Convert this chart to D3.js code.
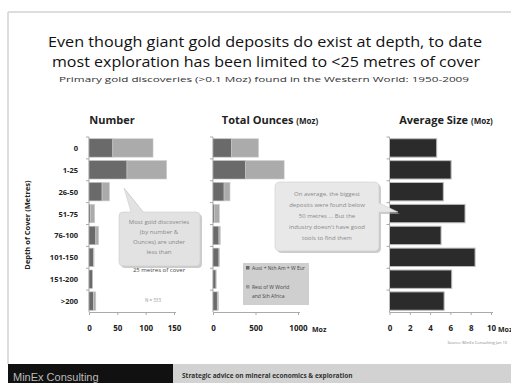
<!DOCTYPE html>
<html><head><meta charset="utf-8">
<script src="https://cdn.jsdelivr.net/npm/d3@7"></script>
<style>body{margin:0;background:#fff}svg{display:block}</style>
</head><body>
<script>
const categories = ["0","1-25","26-50","51-75","76-100","101-150","151-200",">200"];
const numberCore = [42, 67, 23, 3, 12, 8, 6, 8];
const numberRest = [71, 70, 13, 7, 5, 1, 0, 4];
const ouncesCore = [220, 385, 130, 20, 70, 70, 35, 50];
const ouncesRest = [315, 452, 70, 55, 16, 6, 2, 15];
const avgSize = [4.65, 6.07, 5.3, 7.44, 5.08, 8.43, 6.13, 5.38];
const numberTicks = [0, 50, 100, 150];
const ounceTicks = [0, 500, 1000];
const avgTicks = [0, 2, 4, 6, 8, 10];
const legendLabels = ["Aust + Nth Am + W Eur", "Rest of W World", "and Sth Africa"];

const W = 511, H = 383;
const svg = d3.select("body").append("svg").attr("width", W).attr("height", H);
const font = "'Open Sans', 'Liberation Sans', sans-serif";
const dark = "#6a6a6a", light = "#ababab";

// frame
svg.append("line").attr("x1", 8).attr("x2", W).attr("y1", 12).attr("y2", 12).attr("stroke", "#ddd").attr("stroke-width", 2);
svg.append("line").attr("x1", 8).attr("x2", 8).attr("y1", 12).attr("y2", 364).attr("stroke", "#ddd").attr("stroke-width", 2);

// titles
svg.append("text").attr("x", 265).attr("y", 47).attr("text-anchor", "middle").attr("font-family", font)
  .attr("font-size", 14.5).attr("font-weight", 500).attr("fill", "#111").attr("textLength", 434).attr("lengthAdjust", "spacingAndGlyphs")
  .text("Even though giant gold deposits do exist at depth, to date");
svg.append("text").attr("x", 266).attr("y", 67).attr("text-anchor", "middle").attr("font-family", font)
  .attr("font-size", 14.5).attr("font-weight", 500).attr("fill", "#111").attr("textLength", 428).attr("lengthAdjust", "spacingAndGlyphs")
  .text("most exploration has been limited to <25 metres of cover");
svg.append("text").attr("x", 264).attr("y", 82).attr("text-anchor", "middle").attr("font-family", font)
  .attr("font-size", 8).attr("fill", "#333").attr("textLength", 410).attr("lengthAdjust", "spacingAndGlyphs")
  .text("Primary gold discoveries (>0.1 Moz) found in the Western World: 1950-2009");

const y = d3.scaleBand().domain(categories).range([137, 312]).paddingInner(0.16).paddingOuter(0.08);
const yTicks = d3.scaleBand().domain(categories).range([137, 312]);

function panelAxes(x, ticks, x0, x1) {
  const g = svg.append("g");
  g.append("line").attr("x1", x0).attr("x2", x0).attr("y1", 137).attr("y2", 312).attr("stroke", "#aaa");
  categories.forEach(c => {
    g.append("line").attr("x1", x0 - 3).attr("x2", x0).attr("y1", yTicks(c)).attr("y2", yTicks(c)).attr("stroke", "#aaa");
  });
  const ax = svg.append("g").attr("transform", "translate(0,312)")
    .call(d3.axisBottom(x).tickValues(ticks).tickSize(3).tickSizeOuter(0).tickPadding(10).tickFormat(d3.format("d")));
  ax.select(".domain").attr("stroke", "#aaa").attr("d", `M${x0},0.5H${x1}`);
  ax.selectAll(".tick line").attr("stroke", "#aaa");
  ax.selectAll("text").attr("font-family", font).attr("font-size", 8).attr("font-weight", "bold").attr("fill", "#222");
  return ax;
}

// Panel 1: Number
const x1 = d3.scaleLinear().domain([0, 150]).range([89, 174]);
svg.append("text").attr("x", 112).attr("y", 124).attr("text-anchor", "middle").attr("font-family", font)
  .attr("font-size", 11).attr("font-weight", "bold").attr("fill", "#222").text("Number");
panelAxes(x1, numberTicks, 89, 176);
categories.forEach((c, i) => {
  svg.append("rect").attr("x", x1(0)).attr("y", y(c)).attr("width", x1(numberCore[i]) - x1(0)).attr("height", y.bandwidth())
    .attr("fill", dark).attr("stroke", "#bbb").attr("stroke-width", 0.6);
  if (numberRest[i] > 0)
    svg.append("rect").attr("x", x1(numberCore[i])).attr("y", y(c)).attr("width", x1(numberCore[i] + numberRest[i]) - x1(numberCore[i])).attr("height", y.bandwidth())
      .attr("fill", light).attr("stroke", "#ccc").attr("stroke-width", 0.6);
});
categories.forEach(c => {
  svg.append("text").attr("x", 78).attr("y", y(c) + y.bandwidth() / 2 + 3).attr("text-anchor", "end")
    .attr("font-family", font).attr("font-size", 7.5).attr("font-weight", "bold").attr("fill", "#222").text(c);
});
svg.append("text").attr("transform", "translate(30,225) rotate(-90)").attr("text-anchor", "middle")
  .attr("font-family", font).attr("font-size", 7.5).attr("font-weight", "bold").attr("fill", "#222").text("Depth of Cover (Metres)");
svg.append("text").attr("x", 153).attr("y", 302).attr("text-anchor", "middle").attr("font-family", font)
  .attr("font-size", 4.5).attr("fill", "#999").text("N = 333");

// Panel 2: Total Ounces
const x2 = d3.scaleLinear().domain([0, 1000]).range([213, 298]);
const t2 = svg.append("text").attr("x", 270).attr("y", 124).attr("text-anchor", "middle").attr("font-family", font)
  .attr("font-size", 11).attr("font-weight", "bold").attr("fill", "#222");
t2.append("tspan").text("Total Ounces ");
t2.append("tspan").attr("font-size", 8).text("(Moz)");
panelAxes(x2, ounceTicks, 213, 300);
categories.forEach((c, i) => {
  svg.append("rect").attr("x", x2(0)).attr("y", y(c)).attr("width", x2(ouncesCore[i]) - x2(0)).attr("height", y.bandwidth())
    .attr("fill", dark).attr("stroke", "#bbb").attr("stroke-width", 0.6);
  svg.append("rect").attr("x", x2(ouncesCore[i])).attr("y", y(c)).attr("width", x2(ouncesCore[i] + ouncesRest[i]) - x2(ouncesCore[i])).attr("height", y.bandwidth())
    .attr("fill", light).attr("stroke", "#ccc").attr("stroke-width", 0.6);
});
svg.append("text").attr("x", 312).attr("y", 332).attr("font-family", font).attr("font-size", 7)
  .attr("font-weight", "bold").attr("fill", "#222").text("Moz");

// Panel 3: Average size
const x3 = d3.scaleLinear().domain([0, 10]).range([389.5, 491]);
const t3 = svg.append("text").attr("x", 446).attr("y", 124).attr("text-anchor", "middle").attr("font-family", font)
  .attr("font-size", 11).attr("font-weight", "bold").attr("fill", "#222");
t3.append("tspan").text("Average Size ");
t3.append("tspan").attr("font-size", 8).text("(Moz)");
panelAxes(x3, avgTicks, 389.5, 493);
categories.forEach((c, i) => {
  svg.append("rect").attr("x", x3(0)).attr("y", y(c)).attr("width", x3(avgSize[i]) - x3(0)).attr("height", y.bandwidth())
    .attr("fill", "#2b2b2b").attr("stroke", "#bbb").attr("stroke-width", 1);
});
svg.append("text").attr("x", 498).attr("y", 332).attr("font-family", font).attr("font-size", 7)
  .attr("font-weight", "bold").attr("fill", "#222").text("Moz");

// Callout 1
const c1 = svg.append("g");
const p1 = "M123,266 L196,266 Q200,266 200,262 L200,216 Q200,212 196,212 L143,212 L124,188 L131,212 L123,212 Q119,212 119,216 L119,262 Q119,266 123,266 Z";
c1.append("path").attr("d", p1).attr("fill", "#aaa").attr("transform", "translate(2,2)").attr("opacity", 0.6);
c1.append("path").attr("d", p1).attr("fill", "#e2e2e2").attr("stroke", "#ccc").attr("stroke-width", 0.6);
["Most gold discoveries", "(by number &", "Ounces) are under", "less than"].forEach((t, i) => {
  c1.append("text").attr("x", 159).attr("y", 224 + i * 10).attr("text-anchor", "middle").attr("font-family", font)
    .attr("font-size", 6).attr("fill", "#888").text(t);
});
c1.append("text").attr("x", 159).attr("y", 272).attr("text-anchor", "middle").attr("font-family", font)
  .attr("font-size", 6).attr("fill", "#444").text("25 metres of cover");

// Callout 2
const c2 = svg.append("g");
const p2 = "M280,182 L374,182 Q379,182 379,187 L379,203 L398,212 L379,212 L379,246 Q379,251 374,251 L280,251 Q275,251 275,246 L275,187 Q275,182 280,182 Z";
c2.append("path").attr("d", p2).attr("fill", "#aaa").attr("transform", "translate(2,2)").attr("opacity", 0.6);
c2.append("path").attr("d", p2).attr("fill", "#e8e8e8").attr("stroke", "#ccc").attr("stroke-width", 0.6);
["On average, the biggest", "deposits  were found below", "50 metres ... But the", "industry doesn't have good", "tools to find them"].forEach((t, i) => {
  c2.append("text").attr("x", 327).attr("y", 196 + i * 11).attr("text-anchor", "middle").attr("font-family", font)
    .attr("font-size", 6).attr("fill", "#888").text(t);
});

// Legend
const lg = svg.append("g");
lg.append("rect").attr("x", 243).attr("y", 263).attr("width", 66).attr("height", 42).attr("fill", "#cfcfcf");
lg.append("rect").attr("x", 246).attr("y", 266).attr("width", 3.5).attr("height", 3.5).attr("fill", dark);
lg.append("text").attr("x", 252).attr("y", 270).attr("font-family", font).attr("font-size", 5).attr("fill", "#444").text(legendLabels[0]);
lg.append("rect").attr("x", 246).attr("y", 285).attr("width", 3.5).attr("height", 3.5).attr("fill", "#999");
lg.append("text").attr("x", 252).attr("y", 289).attr("font-family", font).attr("font-size", 5).attr("fill", "#444").text(legendLabels[1]);
lg.append("text").attr("x", 252).attr("y", 298).attr("font-family", font).attr("font-size", 5).attr("fill", "#444").text(legendLabels[2]);

// Source
svg.append("text").attr("x", 507).attr("y", 344).attr("text-anchor", "end").attr("font-family", font)
  .attr("font-size", 4).attr("fill", "#888").text("Source: MinEx Consulting Jan 10");

// Footer
svg.append("rect").attr("x", 8).attr("y", 364).attr("width", 165).attr("height", 19).attr("fill", "#111");
svg.append("rect").attr("x", 173).attr("y", 364).attr("width", W - 173).attr("height", 19).attr("fill", "#d2d2d2");
svg.append("text").attr("x", 13).attr("y", 381).attr("font-family", "'Liberation Sans', sans-serif").attr("font-size", 11)
  .attr("fill", "#bbb").text("MinEx Consulting");
svg.append("text").attr("x", 182).attr("y", 378).attr("font-family", font).attr("font-size", 6.5)
  .attr("font-weight", "bold").attr("fill", "#333").text("Strategic advice on mineral economics & exploration");
</script>
</body></html>
